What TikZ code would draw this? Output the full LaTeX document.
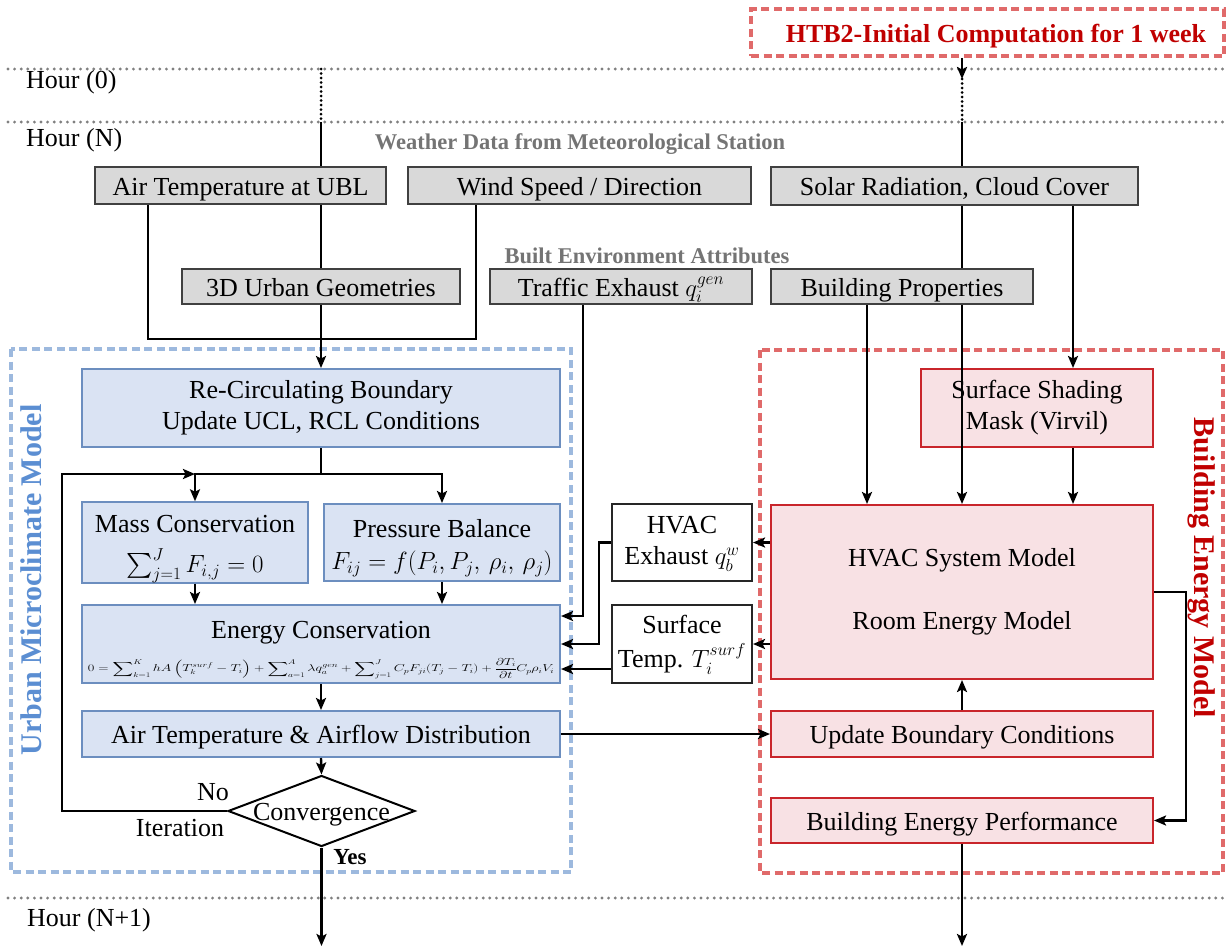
\documentclass[tikz,border=0pt]{standalone}
\usepackage{exscale}
\usepackage{fontspec}
\setmainfont{Liberation Serif}
\usepackage{graphicx}
\usetikzlibrary{arrows.meta,shapes.geometric}
\definecolor{fillgray}{HTML}{D9D9D9}
\definecolor{boxgray}{HTML}{404040}
\definecolor{bfill}{HTML}{DAE3F3}
\definecolor{bborder}{HTML}{6C8EBF}
\definecolor{rfill}{HTML}{F8E1E4}
\definecolor{rborder}{HTML}{C9252B}
\definecolor{umdash}{HTML}{9DB9DE}
\definecolor{bemdash}{HTML}{E06A6A}
\definecolor{umlabel}{HTML}{5B8ED2}
\definecolor{darkred}{HTML}{C00000}
\definecolor{hdrgray}{HTML}{747474}
\begin{document}
\begin{tikzpicture}[x=1pt,y=-1pt,
  every node/.style={font=\fontsize{26}{31}\selectfont, inner sep=0pt},
  one/.style={text height=19pt, text depth=0pt},
  gbox/.style={draw=boxgray, fill=fillgray, line width=2pt, one},
  bbox/.style={draw=bborder, fill=bfill, line width=2pt, align=center},
  rbox/.style={draw=rborder, fill=rfill, line width=2pt, align=center},
  wbox/.style={draw=black!85, fill=white, line width=2pt, align=center},
  hdr/.style={font=\bfseries\fontsize{22.5}{27}\selectfont, text=hdrgray},
  conn/.style={line width=2.4pt, draw=black},
  arr/.style={conn, -{Stealth[length=12pt,width=10pt,inset=2.5pt]}},
  hourline/.style={draw=gray, line width=3.2pt, line cap=round, dash pattern=on 0pt off 6.6pt},
  dotv/.style={line width=3pt, line cap=round, dash pattern=on 0pt off 4.5pt},
  outerbox/.style={line width=3.5pt, dash pattern=on 8pt off 4.5pt},
]
\useasboundingbox (0,0) rectangle (1227,948);

% hour lines
\draw[hourline] (8,69) -- (1227,69);
\draw[hourline] (8,122) -- (1227,122);
\draw[hourline] (8,898) -- (1227,898);
\node[anchor=west] (h0) at (26,82) {Hour (0)};
\node[anchor=west] (hN) at (26,140) {Hour (N)};
\node[anchor=west] (hN1) at (27,920) {Hour (N+1)};

% outer model boxes
\draw[outerbox, draw=umdash] (11,349) rectangle (571,872);
\draw[outerbox, draw=bemdash] (760,350) rectangle (1223,873);
\node[rotate=90, font=\bfseries\fontsize{30}{36}\selectfont, text=umlabel] (umm) at (31,580) {Urban Microclimate Model};
\node[rotate=-90, font=\bfseries\fontsize{30}{36}\selectfont, text=darkred] (bem) at (1202,568) {Building Energy Model};

% HTB2 box
\node[draw=bemdash, outerbox, one, minimum width=473pt, minimum height=47pt, text=darkred,
      font=\bfseries\fontsize{26}{31}\selectfont] (htb) at (987.5,32.5) {\hspace*{17pt}HTB2-Initial Computation for 1 week};

% headers
\node[hdr] (weather) at (580,144) {Weather Data from Meteorological Station};
\node[hdr] (built) at (647,256) {Built Environment Attributes};

% gray input boxes
\node[gbox, minimum width=291pt, minimum height=37pt] (airT) at (240.5,185.5) {Air Temperature at UBL};
\node[gbox, minimum width=343pt, minimum height=37pt] (wind) at (579.5,185.5) {Wind Speed / Direction};
\node[gbox, minimum width=367pt, minimum height=38pt] (solar) at (954.5,186) {Solar Radiation, Cloud Cover};
\node[gbox, minimum width=278pt, minimum height=35pt] (geo) at (321,286.5) {3D Urban Geometries};
\node[gbox, minimum width=262pt, minimum height=35pt] (traffic) at (621,286.5) {Traffic Exhaust $q_i^{gen}$};
\node[gbox, minimum width=262pt, minimum height=35pt] (bprop) at (902,286.5) {Building Properties};

% urban microclimate model
\node[bbox, minimum width=478pt, minimum height=78pt] (recirc) at (321,408) {\strut Re-Circulating Boundary\\Update UCL, RCL Conditions\strut};
\node[bbox, minimum width=226pt, minimum height=77pt] (mass) at (195,542.5) {\rule{0pt}{30pt}Mass Conservation\\[9pt]$\sum_{j=1}^{J}F_{i,j}=0$};
\node[bbox, minimum width=236pt, minimum height=77pt] (press) at (442,542.5) {\rule{0pt}{31pt}Pressure Balance\\[1pt]$F_{ij}=f(P_i,P_j,\,\rho_i,\,\rho_j)$\strut};
\node[bbox, minimum width=478pt, minimum height=78pt] (energy) at (321,644) {\rule{0pt}{30pt}Energy Conservation\\[2pt]\resizebox*{466pt}{21pt}{$\displaystyle 0=\sum\nolimits_{k=1}^{K} hA\left(T_k^{surf}-T_i\right)+\sum\nolimits_{a=1}^{A}\lambda q_a^{gen}+\sum\nolimits_{j=1}^{J} C_pF_{ji}(T_j-T_i)+\frac{\partial T_i}{\partial t}C_p\rho_iV_i$}};
\node[bbox, one, minimum width=478pt, minimum height=46pt] (atd) at (321,734) {Air Temperature \& Airflow Distribution};
\node[draw=black, line width=2pt, fill=white, diamond, one, minimum width=187pt, minimum height=71pt] (conv) at (321.5,811) {\makebox[0pt]{Convergence}};
\node (no) at (213,792) {No};
\node (iter) at (180,828) {Iteration};
\node[font=\bfseries\fontsize{23}{28}\selectfont] (yes) at (350,857) {Yes};

% exchange boxes
\node[wbox, minimum width=140pt, minimum height=77pt] (hvacx) at (682,542.5) {\strut HVAC\\Exhaust $q_b^{w}$\strut};
\node[wbox, minimum width=140pt, minimum height=78pt] (surf) at (682,644) {\strut Surface\\Temp. $T_i^{surf}$\strut};

% building energy model
\node[rbox, minimum width=232pt, minimum height=78pt] (shade) at (1037,408) {\strut Surface Shading\\Mask (Virvil)\strut};
\node[rbox, minimum width=382pt, minimum height=174pt] (hsys) at (962,592) {\strut HVAC System Model\\[32pt]Room Energy Model\strut};
\node[rbox, one, minimum width=382pt, minimum height=46pt] (ubc) at (962,734) {Update Boundary Conditions};
\node[rbox, one, minimum width=382pt, minimum height=45pt] (bep) at (962,820.5) {Building Energy Performance};

% helper coordinates
\coordinate (v0) at (321,69);
\coordinate (v1) at (321,122);
\coordinate (w0) at (962,79);
\coordinate (w1) at (962,122);
\coordinate (c1) at (148,339);
\coordinate (c2) at (476,339);
\coordinate (j) at (321,474);
\coordinate (lp) at (62,474);
\coordinate (p1) at (583,616);
\coordinate (p2) at (599,644);
\coordinate (p3) at (612,669);
\coordinate (xa) at (867,0);
\coordinate (xb) at (1073,0);
\coordinate (xc) at (1186,0);
\coordinate (bot) at (0,946);

% top connectors
\draw[conn, dotv] (v0) -- (v1);
\draw[conn] (v1) -- (airT.north -| v1);
\draw[arr] (htb.south -| w0) -- (w0);
\draw[conn, dotv] (w0) -- (w1);
\draw[conn] (w1) -- (solar.north -| w1);
\draw[conn] (airT.south -| c1) -- (c1) -- (c2) -- (wind.south -| c2);
\draw[conn] (airT.south -| geo.north) -- (geo.north);
\draw[arr] (geo.south) -- (recirc.north);
\draw[arr] (traffic.south -| p1) |- (energy.east |- p1);
\draw[conn] (solar.south -| hsys.north) -- (bprop.north -| hsys.north);
\draw[arr] (bprop.south -| hsys.north) -- (hsys.north);
\draw[arr] (bprop.south -| xa) -- (hsys.north -| xa);
\draw[arr] (solar.south -| xb) -- (shade.north -| xb);
\draw[arr] (shade.south -| xb) -- (hsys.north -| xb);

% urban model connectors
\draw[conn] (recirc.south) -- (j);
\draw[arr] (j) -| (mass.north);
\draw[arr] (j) -| (press.north);
\draw[arr] (mass.south) -- (mass.south |- energy.north);
\draw[arr] (press.south) -- (press.south |- energy.north);
\draw[arr] (energy.south) -- (atd.north);
\draw[arr] (atd.south) -- (conv.north);
\draw[arr] (conv.west) -| (lp) -- (mass.north |- j);
\draw[arr] (conv.south) -- (conv.south |- bot);

% exchange connectors
\draw[arr] (hsys.west |- hvacx.east) -- (hvacx.east);
\draw[arr] (hsys.west |- surf.east) -- (surf.east);
\draw[arr] (hvacx.west) -| (p2) -- (energy.east |- p2);
\draw[arr] (surf.west |- p3) -- (energy.east |- p3);
\draw[arr] (atd.east) -- (ubc.west);

% building model connectors
\draw[arr] (ubc.north) -- (hsys.south);
\draw[arr] (hsys.east) -| (xc |- bep.east) -- (bep.east);
\draw[arr] (bep.south) -- (bep.south |- bot);
\end{tikzpicture}
\end{document}
